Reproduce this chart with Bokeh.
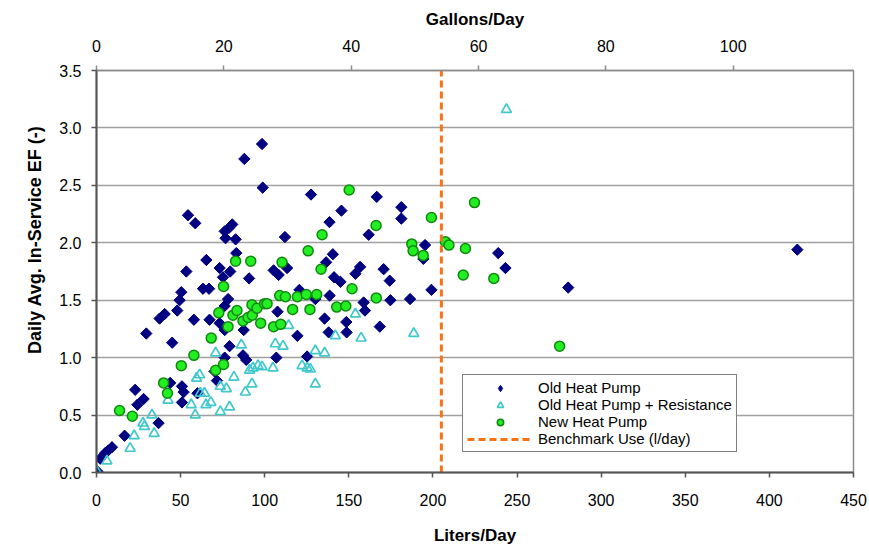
import math
from bokeh.plotting import figure
from bokeh.models import (Range1d, LinearAxis, FixedTicker, PrintfTickFormatter,
                          Legend, LegendItem, Title)
from bokeh.embed import file_html
from bokeh.resources import INLINE

# ---------------- data ----------------
old_hp_lpd = [0.5, 2.2, 5.2, 6.8, 9.2, 16.7, 23.0, 24.3, 28.0, 36.9, 29.6, 45.0, 43.8,
              50.8, 51.8, 50.8, 60.0, 71.6, 70.2, 79.1, 76.2, 87.1, 89.0, 76.2, 87.5,
              54.4, 58.7, 80.7, 78.8, 76.2, 76.7, 82.7, 83.1, 65.3, 73.2, 79.5, 75.2,
              90.7, 53.4, 63.3, 66.9, 50.4, 49.4, 78.2, 76.2, 48.0, 40.5, 37.5, 57.9,
              67.2, 73.2,
              98.4, 87.9, 98.8, 112.0, 105.3, 108.3, 113.3, 107.6,
              127.5, 166.6, 145.6, 181.2, 181.2, 138.5, 161.8, 195.3, 194.3, 140.5,
              136.5, 156.7, 153.9, 170.7, 174.3, 141.2, 145.0, 199.1, 120.6, 138.6,
              130.1, 174.7, 186.4, 158.8, 159.6, 135.6, 148.5, 168.4, 119.4, 138.0,
              148.7, 125.2, 106.9,
              238.8, 243.1, 280.4, 416.6]
old_hp_ef = [0.01, 0.12, 0.17, 0.19, 0.22, 0.32, 0.72, 0.59, 0.64, 0.43, 1.21, 1.13, 0.78,
             0.75, 0.70, 0.61, 0.69, 0.80, 0.88, 1.10, 1.00, 1.02, 0.98, 1.24, 1.24,
             2.24, 2.17, 2.16, 2.13, 2.10, 2.04, 2.03, 1.91, 1.85, 1.78, 1.75, 1.70,
             1.69, 1.75, 1.60, 1.60, 1.57, 1.50, 1.51, 1.45, 1.41, 1.38, 1.34, 1.33,
             1.33, 1.30,
             2.86, 2.73, 2.48, 2.05, 1.76, 1.72, 1.78, 1.40,
             2.42, 2.40, 2.28, 2.31, 2.21, 2.18, 2.07, 1.98, 1.86, 1.90,
             1.83, 1.79, 1.73, 1.77, 1.67, 1.70, 1.66, 1.59, 1.59, 1.54,
             1.51, 1.50, 1.51, 1.48, 1.41, 1.34, 1.31, 1.27, 1.19, 1.22,
             1.22, 1.01, 1.00,
             1.91, 1.78, 1.61, 1.94]

res_lpd = [0.2, 6.2, 20.0, 22.4, 27.6, 28.5, 33.0, 34.3, 42.5, 56.3, 58.7, 61.7, 64.2,
           65.1, 68.0, 73.6, 79.1, 73.6, 77.2, 88.5, 92.4, 61.3, 59.5, 70.8, 81.7, 86.1,
           91.0, 93.0, 96.0, 98.4, 104.9, 106.3, 110.9, 114.2, 122.2, 125.2, 127.1,
           130.1, 130.1, 135.6, 142.0, 153.9, 157.3, 188.6, 243.7]
res_ef = [0.01, 0.10, 0.21, 0.32, 0.43, 0.40, 0.50, 0.34, 0.63, 0.59, 0.50, 0.69, 0.69,
          0.59, 0.61, 0.53, 0.57, 0.75, 0.73, 0.70, 0.77, 0.85, 0.82, 1.04, 0.83, 1.11,
          0.89, 0.91, 0.93, 0.92, 0.91, 1.12, 1.10, 1.28, 0.93, 0.91, 0.90,
          0.77, 1.06, 1.04, 1.19, 1.38, 1.17, 1.21, 3.16]

new_hp_lpd = [13.7, 21.3, 39.9, 42.2, 50.4, 57.9, 68.2, 70.8, 75.5, 72.7, 75.5, 78.2,
              81.1, 83.5, 82.7, 91.7, 87.1, 90.1, 92.6, 92.4, 95.4, 97.6, 99.9, 101.4,
              105.3, 109.5, 108.9, 112.3, 110.3, 116.6, 119.4, 124.7, 126.9, 125.8,
              130.9, 133.5, 134.1, 142.8, 148.2, 150.2, 151.9, 166.2, 166.3, 187.4,
              188.2, 194.2, 199.1, 207.4, 209.5, 219.3, 224.7, 218.0, 236.2, 275.3]
new_hp_ef = [0.54, 0.49, 0.78, 0.69, 0.93, 1.02, 1.17, 0.89, 0.94, 1.39, 1.62, 1.27,
             1.37, 1.41, 1.84, 1.84, 1.32, 1.35, 1.37, 1.46, 1.43, 1.30, 1.47, 1.47,
             1.27, 1.29, 1.54, 1.53, 1.83, 1.42, 1.53, 1.55, 1.42, 1.93,
             1.55, 1.77, 2.07, 1.44, 1.45, 2.46, 1.60, 2.15, 1.52, 1.99,
             1.93, 1.89, 2.22, 2.01, 1.98, 1.95, 2.35, 1.72, 1.69, 1.10]

benchmark_lpd = 205
liters_per_gallon = 3.785
x_ticks = [0, 50, 100, 150, 200, 250, 300, 350, 400, 450]
y_ticks = [0.0, 0.5, 1.0, 1.5, 2.0, 2.5, 3.0, 3.5]
gal_ticks = [0, 20, 40, 60, 80, 100]
x_max = 450
y_max = 3.5

FONT = "Liberation Sans"
NAVY = "#000080"
TEAL = "#40C8CC"
GREEN_FILL = "#22EE22"
GREEN_LINE = "#108810"
ORANGE = "#F97316"

p = figure(frame_width=757, frame_height=402,
           min_border_left=96, min_border_right=14, min_border_top=70, min_border_bottom=74,
           x_range=Range1d(0, x_max), y_range=Range1d(0, y_max),
           output_backend="svg", toolbar_location=None)
p.extra_x_ranges = {"gal": Range1d(0, x_max / liters_per_gallon)}

p.background_fill_color = "white"
p.border_fill_color = "white"
p.outline_line_color = "#8c8c8c"
p.outline_line_width = 1.5

p.xgrid.grid_line_color = None
p.ygrid.ticker = FixedTicker(ticks=y_ticks)
p.ygrid.grid_line_color = "#a0a0a0"
p.ygrid.grid_line_width = 1.5

def style_axis(ax):
    ax.major_label_text_font = FONT
    ax.major_label_text_font_size = "16px"
    ax.major_label_text_color = "black"
    ax.axis_label_text_font = FONT
    ax.axis_label_text_font_size = "17px"
    ax.axis_label_text_font_style = "bold"
    ax.axis_label_text_color = "black"
    ax.minor_tick_line_color = None
    ax.major_tick_in = 0
    ax.major_tick_out = 5
    ax.axis_line_width = 2
    ax.axis_line_color = "#555555"
    ax.major_tick_line_color = "#555555"
    ax.major_tick_line_width = 1.5

xa = p.xaxis[0]
style_axis(xa)
xa.ticker = FixedTicker(ticks=x_ticks)
xa.axis_label = "Liters/Day"
xa.major_label_standoff = 16
xa.axis_label_standoff = 17

ya = p.yaxis[0]
style_axis(ya)
ya.ticker = FixedTicker(ticks=y_ticks)
ya.formatter = PrintfTickFormatter(format="%.1f")
ya.major_label_standoff = 10

ytitle = Title(text="Daily Avg. In-Service EF (-)", align="right", offset=55,
               text_font=FONT, text_font_size="18px", text_font_style="bold",
               text_color="black", standoff=24)
p.add_layout(ytitle, "left")

top = LinearAxis(x_range_name="gal", ticker=FixedTicker(ticks=gal_ticks),
                 axis_label="Gallons/Day")
style_axis(top)
top.axis_line_color = "#8c8c8c"
top.axis_line_width = 1.5
top.major_tick_line_color = "#8c8c8c"
top.major_label_standoff = 14
top.axis_label_standoff = 8
p.add_layout(top, "above")

# Old Heat Pump: a small diamond layer (used for the legend swatch) fully covered
# by rotated squares that give the square-diamond look of the data points
r_old_legend = p.scatter(old_hp_lpd, old_hp_ef, marker="diamond", size=10,
                         fill_color=NAVY, line_color=NAVY)
p.scatter(old_hp_lpd, old_hp_ef, marker="square", angle=math.pi / 4,
          size=8, fill_color=NAVY, line_color=NAVY)
r_res = p.scatter(res_lpd, res_ef, marker="triangle", size=10,
                  fill_color=None, line_color=TEAL, line_width=1.7)
r_new = p.scatter(new_hp_lpd, new_hp_ef, marker="circle", size=10,
                  fill_color=GREEN_FILL, line_color=GREEN_LINE, line_width=1.5)
r_bench = p.line([benchmark_lpd, benchmark_lpd], [0, y_max], line_color=ORANGE,
                 line_width=3, line_dash="7 4")

legend = Legend(items=[
    LegendItem(label="Old Heat Pump", renderers=[r_old_legend]),
    LegendItem(label="Old Heat Pump + Resistance", renderers=[r_res]),
    LegendItem(label="New Heat Pump", renderers=[r_new]),
    LegendItem(label="Benchmark Use (l/day)", renderers=[r_bench]),
], location=(366, 20))
legend.label_text_font = FONT
legend.label_text_font_size = "15px"
legend.label_text_color = "black"
legend.glyph_width = 66
legend.glyph_height = 16
legend.label_height = 16
legend.label_standoff = 5
legend.spacing = 0
legend.padding = 4
legend.margin = 0
legend.border_line_color = "black"
legend.border_line_width = 1.2
legend.background_fill_alpha = 1
p.add_layout(legend, "center")

open("out.html", "w").write(file_html(p, INLINE))
